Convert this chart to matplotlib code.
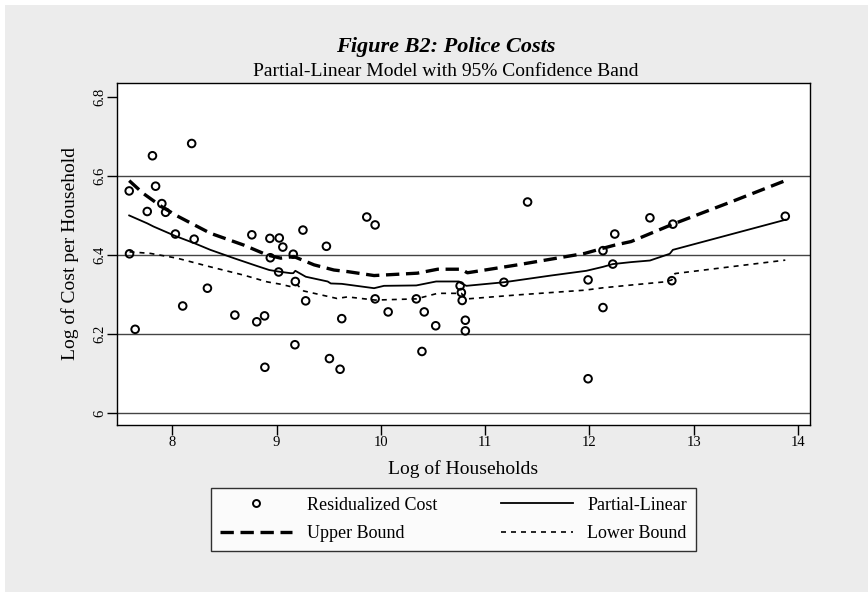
import numpy as np
import matplotlib.pyplot as plt
from matplotlib.patches import Rectangle
from matplotlib.lines import Line2D

# residualized cost points (log households, log cost per household)
pts_x = [7.587, 7.81, 8.186, 7.84, 7.90, 7.76, 7.936, 8.03, 8.21, 7.59, 7.644, 8.10, 8.337,
         8.763, 8.936, 9.026, 9.06, 8.94, 9.02, 8.60, 8.81, 8.885, 8.888,
         9.16, 9.253, 9.478, 9.865, 9.945, 9.18, 9.279, 9.625, 9.945, 10.07, 10.34, 10.416,
         10.526, 9.176, 9.507, 9.609, 10.394,
         10.76, 10.772, 10.78, 10.81, 10.81, 11.18, 11.407, 11.987, 11.987, 12.13, 12.13,
         12.243, 12.224, 12.58, 12.80, 12.79, 13.878]
pts_y = [6.562, 6.651, 6.682, 6.574, 6.530, 6.510, 6.508, 6.453, 6.440, 6.403, 6.212, 6.271, 6.316,
         6.451, 6.442, 6.443, 6.420, 6.393, 6.357, 6.248, 6.231, 6.246, 6.116,
         6.402, 6.463, 6.422, 6.496, 6.476, 6.333, 6.284, 6.239, 6.289, 6.256, 6.289, 6.256,
         6.221, 6.173, 6.138, 6.111, 6.156,
         6.322, 6.305, 6.285, 6.235, 6.208, 6.331, 6.534, 6.337, 6.087, 6.411, 6.267,
         6.453, 6.377, 6.494, 6.478, 6.335, 6.498]

fit_x = [7.587, 7.76, 7.82, 8.03, 8.21, 8.365, 8.59, 8.814, 8.93, 9.02, 9.135, 9.16, 9.18, 9.28,
         9.49, 9.52, 9.625, 9.935, 10.03, 10.34, 10.53, 10.75, 10.76, 10.82, 11.18, 11.63,
         11.97, 12.13, 12.224, 12.40, 12.58, 12.77, 12.80, 13.878]
fit_y = [6.500, 6.480, 6.472, 6.448, 6.430, 6.413, 6.392, 6.372, 6.362, 6.358, 6.354, 6.354, 6.360, 6.345,
         6.333, 6.328, 6.327, 6.316, 6.322, 6.323, 6.333, 6.333, 6.330, 6.322, 6.331, 6.348,
         6.360, 6.370, 6.377, 6.382, 6.386, 6.403, 6.413, 6.489]

up_x = [7.587, 7.72, 7.90, 8.045, 8.365, 8.686, 8.91, 9.04, 9.166, 9.36, 9.55, 9.68, 9.935,
        10.35, 10.545, 10.77, 10.83, 11.31, 11.955, 12.13, 12.243, 12.40, 12.80, 13.365, 13.878]
up_y = [6.588, 6.556, 6.522, 6.499, 6.455, 6.425, 6.400, 6.392, 6.396, 6.375, 6.362, 6.358, 6.348,
        6.354, 6.364, 6.364, 6.355, 6.375, 6.404, 6.417, 6.425, 6.434, 6.478, 6.535, 6.588]

lo_x = [7.59, 7.79, 8.045, 8.365, 8.686, 8.91, 9.04, 9.135, 9.2, 9.26, 9.58, 9.68, 9.945,
        10.34, 10.545, 10.77, 10.83, 11.31, 11.955, 12.13, 12.40, 12.72, 12.79, 12.82, 13.878]
lo_y = [6.408, 6.404, 6.392, 6.370, 6.349, 6.332, 6.326, 6.320, 6.324, 6.309, 6.290, 6.294, 6.286,
        6.289, 6.303, 6.303, 6.289, 6.299, 6.311, 6.317, 6.324, 6.332, 6.337, 6.353, 6.387]

xticks = [8, 9, 10, 11, 12, 13, 14]
yticks = [6, 6.2, 6.4, 6.6, 6.8]
ytick_labels = ['6', '6.2', '6.4', '6.6', '6.8']

plt.rcParams['font.family'] = ['Liberation Serif', 'DejaVu Serif']

fig = plt.figure(figsize=(8.68, 5.92), dpi=100, facecolor='white')
fig.patches.append(Rectangle((5 / 868, 0), 1, 1 - 5 / 592, transform=fig.transFigure,
                             facecolor='#ececec', edgecolor='none', zorder=-10))

ax = fig.add_axes([117 / 868, 1 - 425 / 592, 693 / 868, 342 / 592])
ax.set_facecolor('white')

for g in [6, 6.2, 6.4, 6.6]:
    ax.axhline(g, color='#444444', lw=1.0, zorder=1)

ax.plot(fit_x, fit_y, color='black', lw=1.3, zorder=3, label='Partial-Linear')
ax.plot(up_x, up_y, color='black', lw=2.4, dashes=(4, 2), zorder=3, label='Upper Bound')
ax.plot(lo_x, lo_y, color='black', lw=1.2, dashes=(3, 3), zorder=3, label='Lower Bound')
ax.scatter(pts_x, pts_y, s=30, facecolors='none', edgecolors='black', linewidths=1.4,
           zorder=4, label='Residualized Cost')

ax.set_xlim(7.47, 14.115)
ax.set_ylim(5.97, 6.835)
ax.set_xticks(xticks)
ax.set_yticks(yticks)
ax.set_yticklabels(ytick_labels, rotation=90, va='center')
ax.tick_params(direction='out', length=7, width=1, labelsize=10.5, colors='black')
ax.tick_params(axis='x', pad=1)
ax.tick_params(axis='y', pad=1)
for s in ax.spines.values():
    s.set_color('black')
    s.set_linewidth(1)

ax.set_xlabel('Log of Households', fontsize=14, labelpad=8)
ax.set_ylabel('Log of Cost per Household', fontsize=14, labelpad=10)

fig.text(446 / 868, 1 - 47 / 592, 'Figure B2: Police Costs', ha='center', va='center',
         fontsize=16, fontweight='bold', style='italic')
fig.text(446 / 868, 1 - 71 / 592, 'Partial-Linear Model with 95% Confidence Band',
         ha='center', va='center', fontsize=14)

handles = [
    Line2D([], [], marker='o', ls='none', mfc='none', mec='black', mew=1.4, ms=5),
    Line2D([], [], color='black', lw=2.4, dashes=(4, 2)),
    Line2D([], [], color='black', lw=1.3),
    Line2D([], [], color='black', lw=1.2, dashes=(3, 3)),
]
labels = ['Residualized Cost', 'Upper Bound', 'Partial-Linear', 'Lower Bound']
leg = fig.legend(handles, labels, ncol=2, loc='center',
                 bbox_to_anchor=(211 / 868, 1 - 552 / 592, 485 / 868, 65 / 592),
                 mode='expand', fontsize=13, frameon=True, fancybox=False,
                 edgecolor='black', handlelength=4.0, handletextpad=0.8,
                 columnspacing=2.0, borderpad=0.5, labelspacing=0.65, borderaxespad=0)
leg.get_frame().set_linewidth(1)

fig.savefig('out.png', dpi=100, facecolor=fig.get_facecolor())
